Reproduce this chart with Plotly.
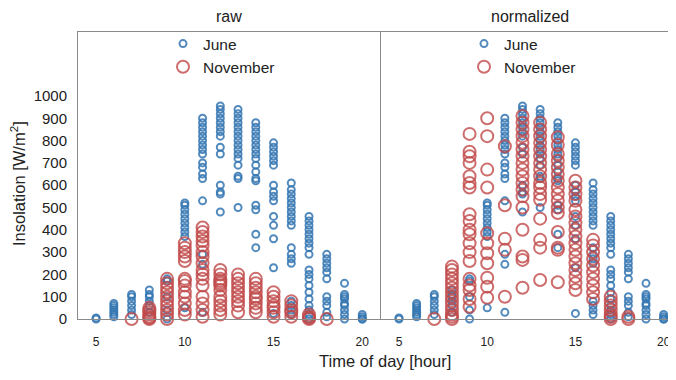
import plotly.graph_objects as go

hours = list(range(5, 21))

# June insolation per hour (same in both panels)
june = [
    [0, 5],
    [10, 20, 30, 40, 50, 60, 70],
    [20, 40, 60, 80, 100, 110],
    [30, 60, 80, 100, 110, 130],
    [0, 40, 100, 170, 180],
    [50, 370, 390, 410, 430, 450, 470, 490, 510, 520],
    [30, 245, 290, 530, 630, 650, 680, 700, 740, 760, 780, 800, 820, 840, 860, 880, 900],
    [480, 560, 570, 600, 740, 770, 820, 840, 860, 880, 900, 920, 940, 955],
    [500, 630, 640, 690, 720, 740, 760, 780, 800, 820, 840, 860, 880, 900, 920, 940],
    [320, 380, 490, 510, 620, 630, 660, 690, 720, 740, 760, 780, 800, 820, 840, 860, 880],
    [25, 230, 360, 420, 460, 530, 550, 570, 600, 690, 710, 730, 750, 770, 790],
    [20, 40, 60, 80, 250, 270, 290, 320, 420, 440, 460, 480, 500, 520, 540, 560, 580, 610],
    [0, 20, 40, 60, 90, 120, 150, 180, 200, 220, 290, 320, 340, 360, 380, 400, 420, 440, 460],
    [10, 30, 60, 80, 100, 180, 210, 230, 250, 270, 290],
    [0, 20, 40, 60, 70, 90, 100, 110, 160],
    [0, 0, 10, 20],
]

# November raw insolation per hour
nov_raw = [
    [],
    [],
    [0],
    [0, 5, 10, 20, 30, 40, 50],
    [0, 20, 40, 60, 80, 100, 120, 140, 160, 180],
    [20, 40, 70, 100, 120, 150, 170, 180, 260, 280, 300, 320, 340],
    [10, 40, 70, 100, 150, 180, 200, 220, 250, 280, 300, 330, 350, 370, 390, 410],
    [20, 40, 60, 80, 100, 130, 150, 160, 170, 180, 200, 220],
    [30, 60, 80, 100, 120, 140, 160, 180, 200],
    [30, 50, 70, 90, 100, 120, 140, 160, 180],
    [10, 30, 50, 60, 80, 100, 120],
    [10, 30, 40, 60, 80],
    [0, 5, 10, 20],
    [0],
    [],
    [],
]

# November normalized insolation per hour
nov_norm = [
    [],
    [],
    [0],
    [0, 10, 20, 40, 60, 80, 100, 120, 140, 160, 180, 200, 220, 235],
    [55, 90, 130, 150, 180, 260, 300, 340, 380, 400, 440, 470, 590, 610, 640, 700, 730, 750, 830],
    [95, 145, 185, 250, 295, 340, 385, 590, 670, 820, 900],
    [100, 310, 360, 510, 775],
    [140, 265, 280, 400, 500, 550, 580, 610, 640, 670, 700, 730, 760, 790, 820, 850, 880, 910],
    [175, 320, 355, 450, 535, 560, 590, 610, 640, 670, 700, 730, 760, 790, 820, 850, 880],
    [165, 310, 320, 390, 475, 500, 530, 560, 590, 620, 650, 680, 710, 740, 780, 815],
    [130, 160, 190, 220, 250, 280, 310, 340, 370, 400, 430, 460, 490, 530, 560, 590, 620],
    [90, 120, 150, 180, 210, 240, 270, 300, 330, 355],
    [0, 10, 20, 40, 60, 80, 100],
    [0, 10],
    [],
    [],
]

y_ticks = [0, 100, 200, 300, 400, 500, 600, 700, 800, 900, 1000]
x_ticks = [5, 10, 15, 20]


def flat(series):
    xs, ys = [], []
    for h, vals in zip(hours, series):
        for v in vals:
            xs.append(h)
            ys.append(v)
    return xs, ys


BLUE = "rgba(52,118,178,0.85)"
RED = "rgba(192,72,72,0.8)"
FONT = "Liberation Sans, Arial, sans-serif"

# The page body adds an 8px offset, so the figure is laid out 8px smaller.
OFF = 8
W, H = 676 - OFF, 380 - OFF
ML, MR, MT = 78 - OFF, 0, 32 - OFF
MB = H - (319 - OFF)
PW, PH = W - ML - MR, H - MT - MB


def px(xr):
    return (xr - OFF - ML) / PW


def py(yr):
    return (H - MB - (yr - OFF)) / PH


fig = go.Figure()
for (nov, xa, ya, leg) in [(nov_raw, "x", "y", "legend"), (nov_norm, "x2", "y2", "legend2")]:
    jx, jy = flat(june)
    nx, ny = flat(nov)
    fig.add_trace(go.Scatter(
        x=jx, y=jy, mode="markers", name="June", xaxis=xa, yaxis=ya, legend=leg,
        marker=dict(symbol="circle-open", size=7, color=BLUE, line=dict(width=2)),
        cliponaxis=False))
    fig.add_trace(go.Scatter(
        x=nx, y=ny, mode="markers", name="November", xaxis=xa, yaxis=ya, legend=leg,
        marker=dict(symbol="circle-open", size=12, color=RED, line=dict(width=2)),
        cliponaxis=False))

axis_common = dict(showgrid=False, zeroline=False, showline=True, linecolor="#8a8a8a",
                   linewidth=1, mirror=True, ticks="", automargin=False)

fig.update_layout(
    width=W, height=H,
    margin=dict(l=ML, r=MR, t=MT, b=MB, autoexpand=False),
    plot_bgcolor="white", paper_bgcolor="white",
    font=dict(family=FONT, color="#222"),
    xaxis=dict(domain=[0, 302 / PW], range=[3.98, 21.0], tickvals=x_ticks, ticklabelstandoff=12,
               tickfont=dict(family=FONT, size=12, color="#222"), **axis_common),
    xaxis2=dict(domain=[303 / PW, 1], range=[3.98, 20.7], tickvals=x_ticks, ticklabelstandoff=12,
                tickfont=dict(family=FONT, size=12, color="#222"), **axis_common),
    yaxis=dict(range=[0, 1287], tickvals=y_ticks, ticklabelstandoff=7,
               tickfont=dict(family=FONT, size=15, color="#222"), **axis_common),
    yaxis2=dict(range=[0, 1287], tickvals=y_ticks, showticklabels=False, anchor="x2",
                **axis_common),
    legend=dict(x=px(163), y=1 + 5 / PH, xanchor="left", yanchor="top",
                bgcolor="rgba(0,0,0,0)",
                font=dict(family=FONT, size=15.5, color="#222"), itemsizing="trace",
                tracegroupgap=0),
    legend2=dict(x=px(464), y=1 + 5 / PH, xanchor="left", yanchor="top",
                 bgcolor="rgba(0,0,0,0)",
                 font=dict(family=FONT, size=15.5, color="#222"), itemsizing="trace",
                 tracegroupgap=0),
    showlegend=True,
)

for txt, xr, yr, ang, fs in [
    ("raw", 229, 16, 0, 16),
    ("normalized", 530, 16, 0, 16),
    ("Time of day [hour]", 385, 361, 0, 16.5),
    ("Insolation [W/m<sup>2</sup>]", 18, 184, -90, 16.5),
]:
    fig.add_annotation(text=txt, x=px(xr), y=py(yr), xref="paper", yref="paper",
                       xanchor="center", yanchor="middle", showarrow=False, textangle=ang,
                       font=dict(family=FONT, size=fs, color="#222"))

fig.write_html("out.html")
